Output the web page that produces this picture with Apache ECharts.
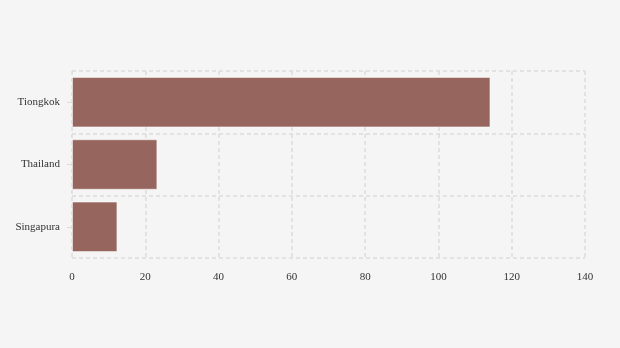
<!DOCTYPE html>
<html><head><meta charset="utf-8">
<script src="https://cdn.jsdelivr.net/npm/echarts@6/dist/echarts.min.js"></script>
<style>html,body{margin:0;padding:0;background:#f5f5f5}#c{width:620px;height:348px}</style>
</head><body><div id="c"></div>
<script>
var categories = ["Singapura", "Thailand", "Tiongkok"];
var values = [12.4, 23.3, 114.2];
var xTicks = [0, 20, 40, 60, 80, 100, 120, 140];

var chart = echarts.init(document.getElementById('c'), null, {renderer: 'canvas'});
chart.setOption({
  backgroundColor: '#f5f5f5',
  animation: false,
  textStyle: {fontFamily: 'Liberation Serif'},
  grid: {left: 72, right: 35, top: 71, bottom: 90, containLabel: false},
  xAxis: {
    type: 'value', min: xTicks[0], max: xTicks[xTicks.length - 1], interval: 20,
    axisLine: {show: false}, axisTick: {show: false},
    axisLabel: {color: '#333', fontSize: 11, fontFamily: 'Liberation Serif', margin: 14},
    splitLine: {show: true, lineStyle: {color: '#dcdcdc', type: [4, 3], width: 1.5}}
  },
  yAxis: {
    type: 'category', data: categories,
    axisLine: {show: false},
    axisTick: {show: true, alignWithLabel: true, length: 5, lineStyle: {color: '#dcdcdc'}},
    axisLabel: {color: '#333', fontSize: 11, fontFamily: 'Liberation Serif', margin: 12, padding: [3, 0, 0, 0]},
    splitLine: {show: true, lineStyle: {color: '#dcdcdc', type: [4, 3], width: 1.5}}
  },
  series: [{
    type: 'bar', data: values, barWidth: '81%',
    itemStyle: {color: '#96665e', borderColor: 'rgba(255,255,255,0.5)', borderWidth: 1}
  }]
});
</script></body></html>
